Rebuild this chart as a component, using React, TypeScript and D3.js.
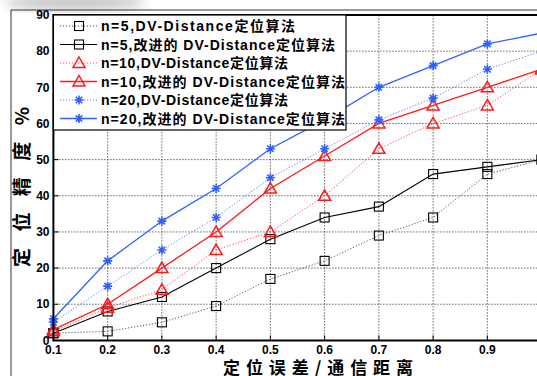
import React, { useEffect, useRef } from "react";
import * as d3 from "d3";

// x values (定位误差/通信距离)
const xValues = [0.1, 0.2, 0.3, 0.4, 0.5, 0.6, 0.7, 0.8, 0.9, 1.0];

// localisation accuracy (%)
const n5Dv = [2, 2.5, 5, 9.5, 17, 22, 29, 34, 46, 50];
const n5Improved = [2, 8, 12, 20, 28, 34, 37, 46, 48, 50];
const n10Dv = [2.5, 9, 14, 25, 30, 40, 53, 60, 65, 75];
const n10Improved = [3, 10, 20, 30, 42, 51, 60, 65, 70, 75];
const n20Dv = [5, 15, 25, 34, 45, 53, 61, 67, 75, 80];
const n20Improved = [6, 22, 33, 42, 53, 61, 70, 76, 82, 85];

const legendLabels = [
  "n=5,DV-Distance定位算法",
  "n=5,改进的 DV-Distance定位算法",
  "n=10,DV-Distance定位算法",
  "n=10,改进的 DV-Distance定位算法",
  "n=20,DV-Distance定位算法",
  "n=20,改进的 DV-Distance定位算法",
];

const xTicks = [0.1, 0.2, 0.3, 0.4, 0.5, 0.6, 0.7, 0.8, 0.9];
const yTicks = [0, 10, 20, 30, 40, 50, 60, 70, 80, 90];

const W = 537,
  H = 376;

export default function App() {
  const ref = useRef<SVGSVGElement>(null);

  useEffect(() => {
    const svg = d3.select(ref.current);
    svg.selectAll("*").remove();

    const x = d3.scaleLinear().domain([0.1, 1.0]).range([53.4, 541.6]);
    const y = d3.scaleLinear().domain([0, 90]).range([340.4, 15]);

    const styles = [
      { values: n5Dv, color: "#000", dash: "1.2,1.8", width: 0.9, marker: "square", opacity: 0.75 },
      { values: n5Improved, color: "#000", dash: null, width: 1.1, marker: "square", opacity: 1 },
      { values: n10Dv, color: "#ff1a1a", dash: "1.2,1.8", width: 1, marker: "tri", opacity: 0.8 },
      { values: n10Improved, color: "#ff1a1a", dash: null, width: 1.3, marker: "tri", opacity: 1 },
      { values: n20Dv, color: "#3060ff", dash: "1.2,1.8", width: 1, marker: "star", opacity: 0.8 },
      { values: n20Improved, color: "#3060ff", dash: null, width: 1.3, marker: "star", opacity: 1 },
    ];

    // blurred smudge top-left
    const defs = svg.append("defs");
    defs
      .append("filter")
      .attr("id", "blur")
      .append("feGaussianBlur")
      .attr("stdDeviation", 6);
    svg
      .append("ellipse")
      .attr("cx", 75)
      .attr("cy", 2)
      .attr("rx", 70)
      .attr("ry", 9)
      .attr("fill", "#c8c8c8")
      .attr("filter", "url(#blur)");

    // outer frame
    svg
      .append("path")
      .attr("d", `M11,${H} V10 H${W}`)
      .attr("fill", "none")
      .attr("stroke", "#333")
      .attr("stroke-width", 1);

    const [x0, x1] = x.range();
    const [y0, y1] = y.range();

    // grid
    const grid = svg.append("g").attr("stroke", "#000").attr("stroke-width", 0.9).attr("stroke-dasharray", "1,2");
    xTicks.slice(1).forEach((t) => {
      grid.append("line").attr("x1", x(t)).attr("x2", x(t)).attr("y1", y0).attr("y2", y1);
    });
    yTicks.slice(1, -1).forEach((t) => {
      grid.append("line").attr("x1", x0).attr("x2", x1).attr("y1", y(t)).attr("y2", y(t));
    });

    // lines
    const line = d3
      .line<number>()
      .x((_, i) => x(xValues[i]))
      .y((d) => y(d));

    const drawMarker = (g: any, m: string, cx: number, cy: number, color: string) => {
      if (m === "square") {
        g.append("rect")
          .attr("x", cx - 4.5)
          .attr("y", cy - 4.5)
          .attr("width", 9)
          .attr("height", 9)
          .attr("fill", "none")
          .attr("stroke", color)
          .attr("stroke-width", 1.1);
      } else if (m === "tri") {
        g.append("path")
          .attr("d", `M${cx},${cy - 6} L${cx + 6},${cy + 4.5} L${cx - 6},${cy + 4.5} Z`)
          .attr("fill", "none")
          .attr("stroke", color)
          .attr("stroke-width", 1.5);
      } else {
        const r = 4.5,
          d = r * 0.72;
        g.append("path")
          .attr(
            "d",
            `M${cx - r},${cy}H${cx + r}M${cx},${cy - r}V${cy + r}M${cx - d},${cy - d}L${cx + d},${cy + d}M${cx - d},${cy + d}L${cx + d},${cy - d}`
          )
          .attr("stroke", color)
          .attr("stroke-width", 1.6);
      }
    };

    const plot = svg.append("g");
    styles.forEach((s) => {
      plot
        .append("path")
        .datum(s.values)
        .attr("fill", "none")
        .attr("stroke", s.color)
        .attr("stroke-width", s.width)
        .attr("stroke-dasharray", s.dash)
        .attr("opacity", s.opacity)
        .attr("d", line);
      s.values.forEach((v, i) => drawMarker(plot, s.marker, x(xValues[i]), y(v), s.color));
    });

    // axes box
    svg
      .append("path")
      .attr("d", `M${x1 + 5},${y1} H${x0} V${y0} H${x1 + 5}`)
      .attr("fill", "none")
      .attr("stroke", "#000")
      .attr("stroke-width", 2);

    // tick marks
    const ticks = svg.append("g").attr("stroke", "#000").attr("stroke-width", 1);
    xTicks.forEach((t) => {
      ticks.append("line").attr("x1", x(t)).attr("x2", x(t)).attr("y1", y0).attr("y2", y0 - 5);
    });
    yTicks.forEach((t) => {
      ticks.append("line").attr("x1", x0).attr("x2", x0 + 5).attr("y1", y(t)).attr("y2", y(t));
    });

    const tickFont = "'Liberation Sans', Arial, sans-serif";
    svg
      .append("g")
      .selectAll("text")
      .data(yTicks)
      .join("text")
      .attr("x", 49.5)
      .attr("y", (d) => y(d) + 4.2)
      .attr("text-anchor", "end")
      .attr("font-family", tickFont)
      .attr("font-weight", "bold")
      .attr("font-size", 12)
      .text((d) => d);
    svg
      .append("g")
      .selectAll("text")
      .data(xTicks)
      .join("text")
      .attr("x", (d) => x(d))
      .attr("y", 354)
      .attr("text-anchor", "middle")
      .attr("font-family", tickFont)
      .attr("font-weight", "bold")
      .attr("font-size", 12)
      .text((d) => d3.format(".1f")(d));

    // axis titles
    const cjk = "'Noto Sans CJK SC', sans-serif";
    svg
      .append("text")
      .attr("transform", "translate(29,187) rotate(-90)")
      .attr("text-anchor", "middle")
      .attr("font-family", cjk)
      .attr("font-weight", "bold")
      .attr("font-size", 19)
      .attr("textLength", 160)
      .attr("lengthAdjust", "spacing")
      .text("定位精度%");
    svg
      .append("text")
      .attr("x", 318)
      .attr("y", 374)
      .attr("text-anchor", "middle")
      .attr("font-family", cjk)
      .attr("font-weight", "bold")
      .attr("font-size", 17)
      .attr("textLength", 190)
      .attr("lengthAdjust", "spacing")
      .text("定位误差/通信距离");

    // legend
    const legendEnds = [295, 335, 288, 345, 288, 345];
    const lg = svg.append("g");
    lg.append("rect")
      .attr("x", x0)
      .attr("y", y1)
      .attr("width", 346 - x0)
      .attr("height", 130 - y1)
      .attr("fill", "#fff")
      .attr("stroke", "#000")
      .attr("stroke-width", 1.2);
    styles.forEach((s, i) => {
      const ly = 26 + i * 18.5;
      lg.append("line")
        .attr("x1", 60)
        .attr("x2", 97)
        .attr("y1", ly)
        .attr("y2", ly)
        .attr("stroke", s.color)
        .attr("stroke-width", s.width)
        .attr("stroke-dasharray", s.dash)
        .attr("opacity", s.opacity);
      drawMarker(lg, s.marker, 79, ly, s.color);
      lg.append("text")
        .attr("x", 101)
        .attr("y", ly + 5)
        .attr("font-family", "'Liberation Sans', 'Noto Sans CJK SC', sans-serif")
        .attr("font-weight", "bold")
        .attr("font-size", 14)
        .attr("textLength", legendEnds[i] - 101)
        .attr("lengthAdjust", "spacing")
        .text(legendLabels[i]);
    });
  }, []);

  return (
    <svg
      ref={ref}
      width={W}
      height={H}
      style={{ position: "fixed", left: 0, top: 0, background: "#fff" }}
    />
  );
}
